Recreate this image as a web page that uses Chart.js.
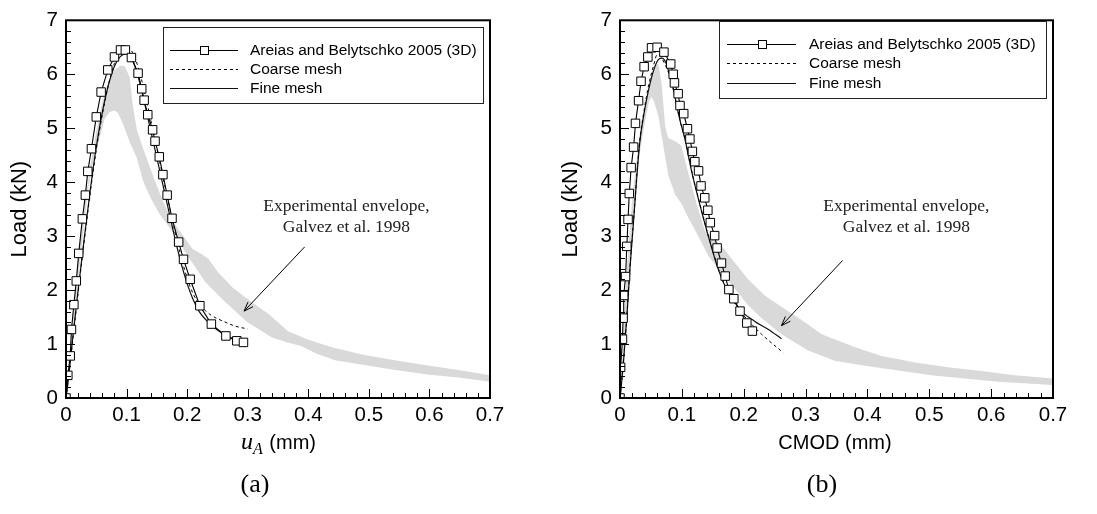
<!DOCTYPE html>
<html>
<head>
<meta charset="utf-8">
<script src="https://cdn.jsdelivr.net/npm/chart.js@4.4.0/dist/chart.umd.min.js"></script>
<style>
  html, body { margin: 0; padding: 0; background: #fff; }
  #wrap { position: relative; width: 1097px; height: 514px; overflow: hidden; }
  #wrap canvas { position: absolute; top: 0; }
</style>
</head>
<body>
<div id="wrap">
  <canvas id="chartA" width="548" height="514" style="left:0"></canvas>
  <canvas id="chartB" width="549" height="514" style="left:548px"></canvas>
</div>
<script>
// tick labels and names
const xTickLabels = ['0', '0.1', '0.2', '0.3', '0.4', '0.5', '0.6', '0.7'];
const yTickLabels = ['0', '1', '2', '3', '4', '5', '6', '7'];
const seriesNames = ['Areias and Belytschko 2005 (3D)', 'Coarse mesh', 'Fine mesh'];
const noteLines = ['Experimental envelope,', 'Galvez et al. 1998'];

// (a) load vs u_A, [mm, kN]
const uaAreias = [[0,0],[0.003,0.42],[0.007,0.78],[0.009,1.27],[0.013,1.73],[0.017,2.17],[0.021,2.68],
  [0.027,3.32],[0.032,3.76],[0.036,4.20],[0.042,4.62],[0.050,5.21],[0.058,5.67],[0.069,6.08],[0.080,6.32],
  [0.090,6.45],[0.098,6.45],[0.108,6.31],[0.119,6.02],[0.125,5.73],[0.129,5.52],[0.135,5.25],[0.143,4.97],
  [0.147,4.76],[0.154,4.47],[0.160,4.14],[0.167,3.76],[0.175,3.33],[0.186,2.89],[0.194,2.57],[0.205,2.20],
  [0.221,1.71],[0.240,1.37],[0.264,1.15],[0.282,1.06],[0.293,1.03]];
const uaCoarse = [[0,0],[0.005,0.45],[0.01,0.95],[0.02,1.95],[0.03,2.9],[0.04,3.8],[0.05,4.6],[0.06,5.25],
  [0.07,5.8],[0.08,6.2],[0.09,6.42],[0.1,6.5],[0.11,6.4],[0.12,6.1],[0.13,5.65],[0.14,5.15],[0.15,4.62],
  [0.16,4.1],[0.17,3.58],[0.18,3.08],[0.19,2.62],[0.2,2.22],[0.21,1.93],[0.22,1.74],[0.23,1.62],[0.24,1.53],
  [0.26,1.42],[0.28,1.33],[0.3,1.28]];
const uaFine = [[0,0],[0.005,0.45],[0.01,1.0],[0.015,1.5],[0.02,2.0],[0.03,2.95],[0.04,3.85],[0.05,4.65],
  [0.06,5.3],[0.07,5.8],[0.08,6.15],[0.09,6.33],[0.1,6.38],[0.11,6.25],[0.12,5.92],[0.13,5.45],[0.14,4.95],
  [0.15,4.45],[0.16,3.95],[0.17,3.45],[0.18,2.95],[0.19,2.5],[0.2,2.12],[0.21,1.82],[0.22,1.6],[0.24,1.35],
  [0.26,1.18],[0.28,1.08],[0.293,1.03]];
const uaEnvUpper = [[0,0],[0.01,1.4],[0.02,2.6],[0.03,3.5],[0.04,4.3],[0.05,4.95],[0.06,5.5],[0.07,5.88],
  [0.08,6.08],[0.09,6.16],[0.097,6.15],[0.105,5.95],[0.11,5.45],[0.117,4.97],[0.128,4.6],[0.144,4.11],
  [0.161,3.62],[0.177,3.26],[0.194,3.0],[0.209,2.76],[0.225,2.66],[0.235,2.58],[0.251,2.33],[0.275,2.05],
  [0.298,1.85],[0.335,1.55],[0.366,1.24],[0.4,1.08],[0.439,0.94],[0.49,0.8],[0.543,0.70],[0.6,0.6],
  [0.648,0.52],[0.7,0.42]];
const uaEnvLower = [[0,0],[0.01,1.0],[0.02,2.2],[0.03,3.2],[0.037,3.9],[0.048,4.55],[0.059,4.96],[0.064,5.18],
  [0.072,5.3],[0.08,5.33],[0.086,5.28],[0.095,5.05],[0.105,4.75],[0.117,4.45],[0.128,4.0],[0.14,3.7],
  [0.155,3.4],[0.178,3.05],[0.204,2.58],[0.23,2.15],[0.262,1.79],[0.298,1.42],[0.34,1.12],[0.366,1.03],
  [0.387,0.97],[0.414,0.82],[0.444,0.70],[0.5,0.6],[0.543,0.52],[0.6,0.43],[0.648,0.38],[0.7,0.30]];

// (b) load vs CMOD, [mm, kN]
const cmodAreias = [[0,0],[0.001,0.57],[0.004,1.09],[0.005,1.48],[0.006,1.90],[0.009,2.25],[0.011,2.81],
  [0.013,3.31],[0.015,3.79],[0.018,4.27],[0.022,4.65],[0.025,5.09],[0.030,5.51],[0.034,5.87],[0.039,6.14],
  [0.045,6.32],[0.051,6.49],[0.060,6.50],[0.071,6.41],[0.082,6.19],[0.086,6.00],[0.088,5.84],[0.094,5.64],
  [0.097,5.42],[0.103,5.27],[0.109,4.99],[0.113,4.80],[0.117,4.57],[0.121,4.38],[0.127,4.21],[0.131,3.93],
  [0.137,3.71],[0.142,3.48],[0.146,3.25],[0.153,3.01],[0.157,2.78],[0.164,2.50],[0.170,2.26],[0.176,2.01],
  [0.184,1.84],[0.194,1.61],[0.205,1.39],[0.214,1.24]];
const cmodCoarse = [[0,0],[0.005,0.6],[0.011,1.5],[0.016,2.4],[0.022,3.3],[0.027,4.1],[0.032,4.78],
  [0.039,5.33],[0.046,5.78],[0.054,6.15],[0.06,6.36],[0.066,6.32],[0.074,6.15],[0.08,5.98],[0.086,5.72],
  [0.092,5.40],[0.098,5.1],[0.105,4.80],[0.116,4.2],[0.129,3.6],[0.143,3.0],[0.159,2.4],[0.172,2.02],
  [0.185,1.76],[0.197,1.57],[0.207,1.44],[0.229,1.18],[0.264,0.84]];
const cmodFine = [[0,0],[0.005,0.57],[0.011,1.48],[0.016,2.38],[0.022,3.29],[0.027,4.07],[0.032,4.74],
  [0.039,5.28],[0.046,5.70],[0.054,6.06],[0.062,6.27],[0.068,6.30],[0.074,6.22],[0.08,6.0],[0.086,5.75],
  [0.092,5.40],[0.098,5.1],[0.105,4.80],[0.116,4.19],[0.129,3.59],[0.143,2.99],[0.159,2.38],[0.172,2.02],
  [0.185,1.78],[0.197,1.60],[0.218,1.42],[0.240,1.27],[0.261,1.10]];
const cmodEnvUpper = [[0,0],[0.005,1.2],[0.01,2.2],[0.015,3.0],[0.02,3.7],[0.03,4.75],[0.04,5.45],[0.05,5.9],
  [0.057,6.15],[0.062,6.2],[0.067,5.85],[0.07,5.46],[0.073,5.04],[0.078,4.82],[0.085,4.78],[0.092,4.74],
  [0.099,4.68],[0.110,4.19],[0.124,3.59],[0.137,3.11],[0.148,2.99],[0.164,2.82],[0.186,2.50],[0.207,2.20],
  [0.234,1.90],[0.261,1.69],[0.293,1.45],[0.326,1.18],[0.353,1.06],[0.380,0.94],[0.423,0.78],[0.477,0.66],
  [0.530,0.57],[0.584,0.50],[0.638,0.42],[0.7,0.36]];
const cmodEnvLower = [[0,0],[0.005,0.5],[0.01,1.3],[0.015,2.3],[0.02,3.1],[0.025,3.8],[0.03,4.4],[0.04,5.1],
  [0.047,5.5],[0.051,5.58],[0.055,5.5],[0.062,5.22],[0.070,4.68],[0.078,4.13],[0.089,3.77],[0.1,3.59],
  [0.110,3.35],[0.127,2.99],[0.143,2.63],[0.164,2.32],[0.186,2.02],[0.207,1.72],[0.229,1.48],[0.261,1.18],
  [0.304,0.88],[0.347,0.69],[0.396,0.60],[0.45,0.51],[0.503,0.42],[0.557,0.36],[0.611,0.30],[0.7,0.24]];

const SANS = "'Liberation Sans', Arial, sans-serif";
const SERIF = "'Liberation Serif', 'Times New Roman', serif";
const toXY = pts => pts.map(p => ({ x: p[0], y: p[1] }));

function buildDatasets(areias, coarse, fine, upper, lower) {
  return [
    { label: seriesNames[0], data: toXY(areias), borderColor: '#000', borderWidth: 1.1,
      pointStyle: 'rect', pointRadius: 6, pointBackgroundColor: '#fff', pointBorderColor: '#000',
      pointBorderWidth: 1, tension: 0 },
    { label: seriesNames[1], data: toXY(coarse), borderColor: '#000', borderWidth: 1,
      borderDash: [3, 3], pointRadius: 0, cubicInterpolationMode: 'monotone' },
    { label: seriesNames[2], data: toXY(fine), borderColor: '#111', borderWidth: 1.2,
      pointRadius: 0, cubicInterpolationMode: 'monotone' },
    { label: 'envelope upper', data: toXY(upper), borderColor: 'rgba(0,0,0,0)', borderWidth: 0,
      pointRadius: 0, fill: false },
    { label: 'envelope lower', data: toXY(lower), borderColor: 'rgba(0,0,0,0)', borderWidth: 0,
      pointRadius: 0, backgroundColor: '#d9d9d9', fill: '-1' }
  ];
}

// frame, inward ticks, legend box, note, x title, caption
const paperDecor = {
  id: 'paperDecor',
  afterDraw(chart, args, o) {
    const { ctx, chartArea: a } = chart;
    const x = chart.scales.x, y = chart.scales.y;
    ctx.save();

    ctx.strokeStyle = '#000';
    ctx.lineWidth = 1;
    ctx.beginPath();
    for (let i = 0; i <= 35; i++) {
      const px = Math.round(x.getPixelForValue(i * 0.02)) + 0.5;
      const len = i % 5 === 0 ? 9 : 5;
      ctx.moveTo(px, a.bottom); ctx.lineTo(px, a.bottom - len);
      const py = Math.round(y.getPixelForValue(i * 0.2)) + 0.5;
      ctx.moveTo(a.left, py); ctx.lineTo(a.left + len, py);
    }
    ctx.stroke();
    ctx.lineWidth = 2;
    ctx.strokeRect(a.left, a.top, a.right - a.left, a.bottom - a.top);

    // legend
    const L = o.legend;
    ctx.fillStyle = '#fff';
    ctx.fillRect(L.x, L.y, L.w, L.h);
    ctx.lineWidth = 1;
    ctx.strokeStyle = '#222';
    ctx.strokeRect(L.x + 0.5, L.y + 0.5, L.w, L.h);
    ctx.font = '15.5px ' + SANS;
    ctx.textBaseline = 'middle';
    ctx.textAlign = 'left';
    chart.data.datasets.slice(0, 3).forEach((ds, i) => {
      const ry = L.rows[i] + 0.5;
      ctx.strokeStyle = ds.borderColor;
      ctx.lineWidth = ds.borderWidth;
      ctx.setLineDash(ds.borderDash || []);
      ctx.beginPath(); ctx.moveTo(L.line0, ry); ctx.lineTo(L.line1, ry); ctx.stroke();
      ctx.setLineDash([]);
      if (ds.pointRadius) {
        const s = 4;
        const cx = Math.round((L.line0 + L.line1) / 2) + 0.5;
        ctx.fillStyle = '#fff';
        ctx.fillRect(cx - s, ry - s, 2 * s, 2 * s);
        ctx.lineWidth = 1;
        ctx.strokeRect(cx - s, ry - s, 2 * s, 2 * s);
      }
      ctx.fillStyle = '#000';
      ctx.fillText(ds.label, L.text, L.rows[i] + 1);
    });

    // note with arrow
    const n = o.note;
    ctx.fillStyle = '#222';
    ctx.font = '17.5px ' + SERIF;
    ctx.textAlign = 'center';
    ctx.textBaseline = 'middle';
    const nx = x.getPixelForValue(n.x);
    ctx.fillText(noteLines[0], nx, y.getPixelForValue(n.y1));
    ctx.fillText(noteLines[1], nx, y.getPixelForValue(n.y2));
    const x0 = x.getPixelForValue(n.from[0]), y0 = y.getPixelForValue(n.from[1]);
    const x1 = x.getPixelForValue(n.to[0]), y1 = y.getPixelForValue(n.to[1]);
    ctx.strokeStyle = '#000';
    ctx.lineWidth = 1;
    ctx.beginPath(); ctx.moveTo(x0, y0); ctx.lineTo(x1, y1);
    const ang = Math.atan2(y1 - y0, x1 - x0);
    [0.35, -0.35].forEach(d => {
      ctx.moveTo(x1, y1);
      ctx.lineTo(x1 - 10 * Math.cos(ang + d), y1 - 10 * Math.sin(ang + d));
    });
    ctx.stroke();

    // x title
    const T = o.xTitle;
    ctx.fillStyle = '#000';
    ctx.textBaseline = 'alphabetic';
    ctx.textAlign = 'left';
    if (T.kind === 'ua') {
      ctx.font = 'italic 24px ' + SERIF;
      const wu = ctx.measureText('u').width;
      ctx.font = 'italic 16px ' + SERIF;
      const wa = ctx.measureText('A').width;
      ctx.font = '20px ' + SANS;
      const wm = ctx.measureText(' (mm)').width;
      let cx = T.x - (wu + wa + wm) / 2;
      ctx.font = 'italic 24px ' + SERIF;
      ctx.fillText('u', cx, T.y); cx += wu;
      ctx.font = 'italic 16px ' + SERIF;
      ctx.fillText('A', cx, T.y + 5); cx += wa + 1;
      ctx.font = '20px ' + SANS;
      ctx.fillText(' (mm)', cx, T.y);
    } else {
      ctx.font = '20px ' + SANS;
      ctx.textAlign = 'center';
      ctx.fillText(T.text, T.x, T.y);
    }

    // caption
    ctx.font = '26px ' + SERIF;
    ctx.textAlign = 'center';
    ctx.textBaseline = 'middle';
    ctx.fillText(o.caption.text, o.caption.x, o.caption.y);
    ctx.restore();
  }
};

function makeChart(id, datasets, pad, yWidth, decor) {
  return new Chart(document.getElementById(id), {
    type: 'line',
    data: { datasets },
    plugins: [paperDecor],
    options: {
      responsive: false,
      animation: false,
      events: [],
      layout: { padding: pad },
      plugins: { legend: { display: false }, tooltip: { enabled: false }, paperDecor: decor },
      scales: {
        x: {
          type: 'linear', min: 0, max: 0.7,
          grid: { display: false, drawTicks: false }, border: { display: false },
          ticks: { stepSize: 0.1, autoSkip: false, maxRotation: 0, padding: 5, color: '#000',
            font: { family: SANS, size: 20.5 }, callback: (v, i) => xTickLabels[i] },
          afterFit: s => { s.height = 116; }
        },
        y: {
          type: 'linear', min: 0, max: 7,
          grid: { display: false, drawTicks: false }, border: { display: false },
          ticks: { stepSize: 1, padding: 8, color: '#000',
            font: { family: SANS, size: 20.5 }, callback: (v, i) => yTickLabels[i] },
          title: { display: true, text: 'Load (kN)', color: '#000', font: { family: SANS, size: 22 } },
          afterFit: s => { s.width = yWidth; }
        }
      }
    }
  });
}

makeChart('chartA',
  buildDatasets(uaAreias, uaCoarse, uaFine, uaEnvUpper, uaEnvLower),
  { left: 3, right: 58, top: 16, bottom: 0 }, 63,
  {
    legend: { x: 163, y: 27, w: 320, h: 76, line0: 170, line1: 238, text: 250, rows: [50, 69, 88] },
    note: { x: 0.463, y1: 3.555, y2: 3.17, from: [0.394, 2.80], to: [0.294, 1.61] },
    xTitle: { kind: 'ua', x: 278, y: 449 },
    caption: { text: '(a)', x: 255, y: 485 }
  });

makeChart('chartB',
  buildDatasets(cmodAreias, cmodCoarse, cmodFine, cmodEnvUpper, cmodEnvLower),
  { left: 6, right: 44, top: 12, bottom: 0 }, 66,
  {
    legend: { x: 171, y: 21, w: 327, h: 77, line0: 179, line1: 248, text: 261, rows: [44, 63, 83] },
    note: { x: 0.463, y1: 3.55, y2: 3.17, from: [0.360, 2.55], to: [0.261, 1.34] },
    xTitle: { kind: 'text', text: 'CMOD (mm)', x: 287, y: 449 },
    caption: { text: '(b)', x: 274, y: 485 }
  });
</script>
</body>
</html>
